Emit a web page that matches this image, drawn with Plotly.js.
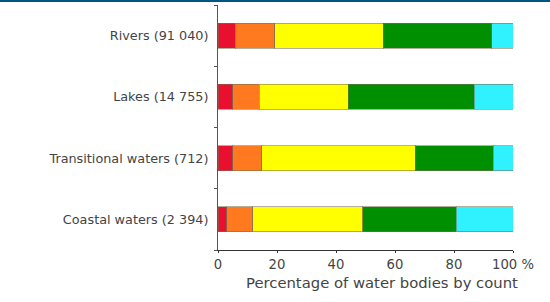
<!DOCTYPE html>
<html><head><meta charset="utf-8">
<script src="https://cdn.plot.ly/plotly-3.0.1.min.js"></script>
<style>html,body{margin:0;padding:0;background:#fff;}#chart{width:550px;height:302px;}</style>
</head><body><div id="chart"></div>
<script>
const categories = ["Rivers (91 040)", "Lakes (14 755)", "Transitional waters (712)", "Coastal waters (2 394)"];
const seriesNames = ["Bad", "Poor", "Moderate", "Good", "High"];
const bad      = [5.8, 5.0, 5.0, 2.9];
const poor     = [13.5, 8.9, 9.8, 8.9];
const moderate = [36.7, 30.3, 52.0, 37.2];
const good     = [36.8, 42.6, 26.5, 31.7];
const high     = [7.2, 13.2, 6.7, 19.3];
const tickVals = [0, 20, 40, 60, 80, 100];
const tickText = ["0", "20", "40", "60", "80", "100 %"];
const colors = ["#E8102E", "#FF7A1E", "#FFFF00", "#008F00", "#30F2FF"];
const seriesValues = [bad, poor, moderate, good, high];

const traces = seriesValues.map((v, i) => ({
  type: "bar", orientation: "h", name: seriesNames[i],
  y: categories, x: v,
  marker: {color: colors[i], line: {color: "rgba(120,110,80,0.55)", width: 1}},
  width: 0.41, hoverinfo: "x+y"
}));

const layout = {
  width: 550, height: 302,
  margin: {l: 218, r: 37, t: 5, b: 52},
  barmode: "stack", showlegend: false,
  paper_bgcolor: "#fff", plot_bgcolor: "#fff",
  font: {family: "DejaVu Sans, Verdana, sans-serif", size: 12, color: "#444"},
  xaxis: {range: [0, 100], tickvals: tickVals, ticktext: tickText,
    tickfont: {size: 13.2, color: "#444"},
    showgrid: false, zeroline: false, showline: true, linecolor: "#333", linewidth: 1,
    ticks: "outside", ticklen: 2, tickcolor: "#333", fixedrange: true},
  yaxis: {type: "category", categoryorder: "array", categoryarray: categories.slice().reverse(),
    range: [-0.5, 3.5], showgrid: false, zeroline: false, showline: true, linecolor: "#555",
    tickfont: {size: 12.8, color: "#444"},
    ticks: "outside", ticklen: 3, tickcolor: "#555", tickson: "boundaries",
    ticklabelstandoff: 6, fixedrange: true},
  annotations: [{text: "Percentage of water bodies by count", xref: "paper", yref: "paper",
    x: (381.7 - 218) / 295, y: -(282 - 250) / 245, xanchor: "center", yanchor: "middle",
    showarrow: false, font: {size: 14.8, color: "#444"}}],
  shapes: [{type: "rect", xref: "paper", yref: "paper",
    x0: -218 / 295, x1: 332 / 295, y0: 1 + 3 / 245, y1: 1 + 5 / 245,
    fillcolor: "#005587", line: {width: 0}}]
};
Plotly.newPlot("chart", traces, layout, {displayModeBar: false, staticPlot: true});
</script></body></html>
